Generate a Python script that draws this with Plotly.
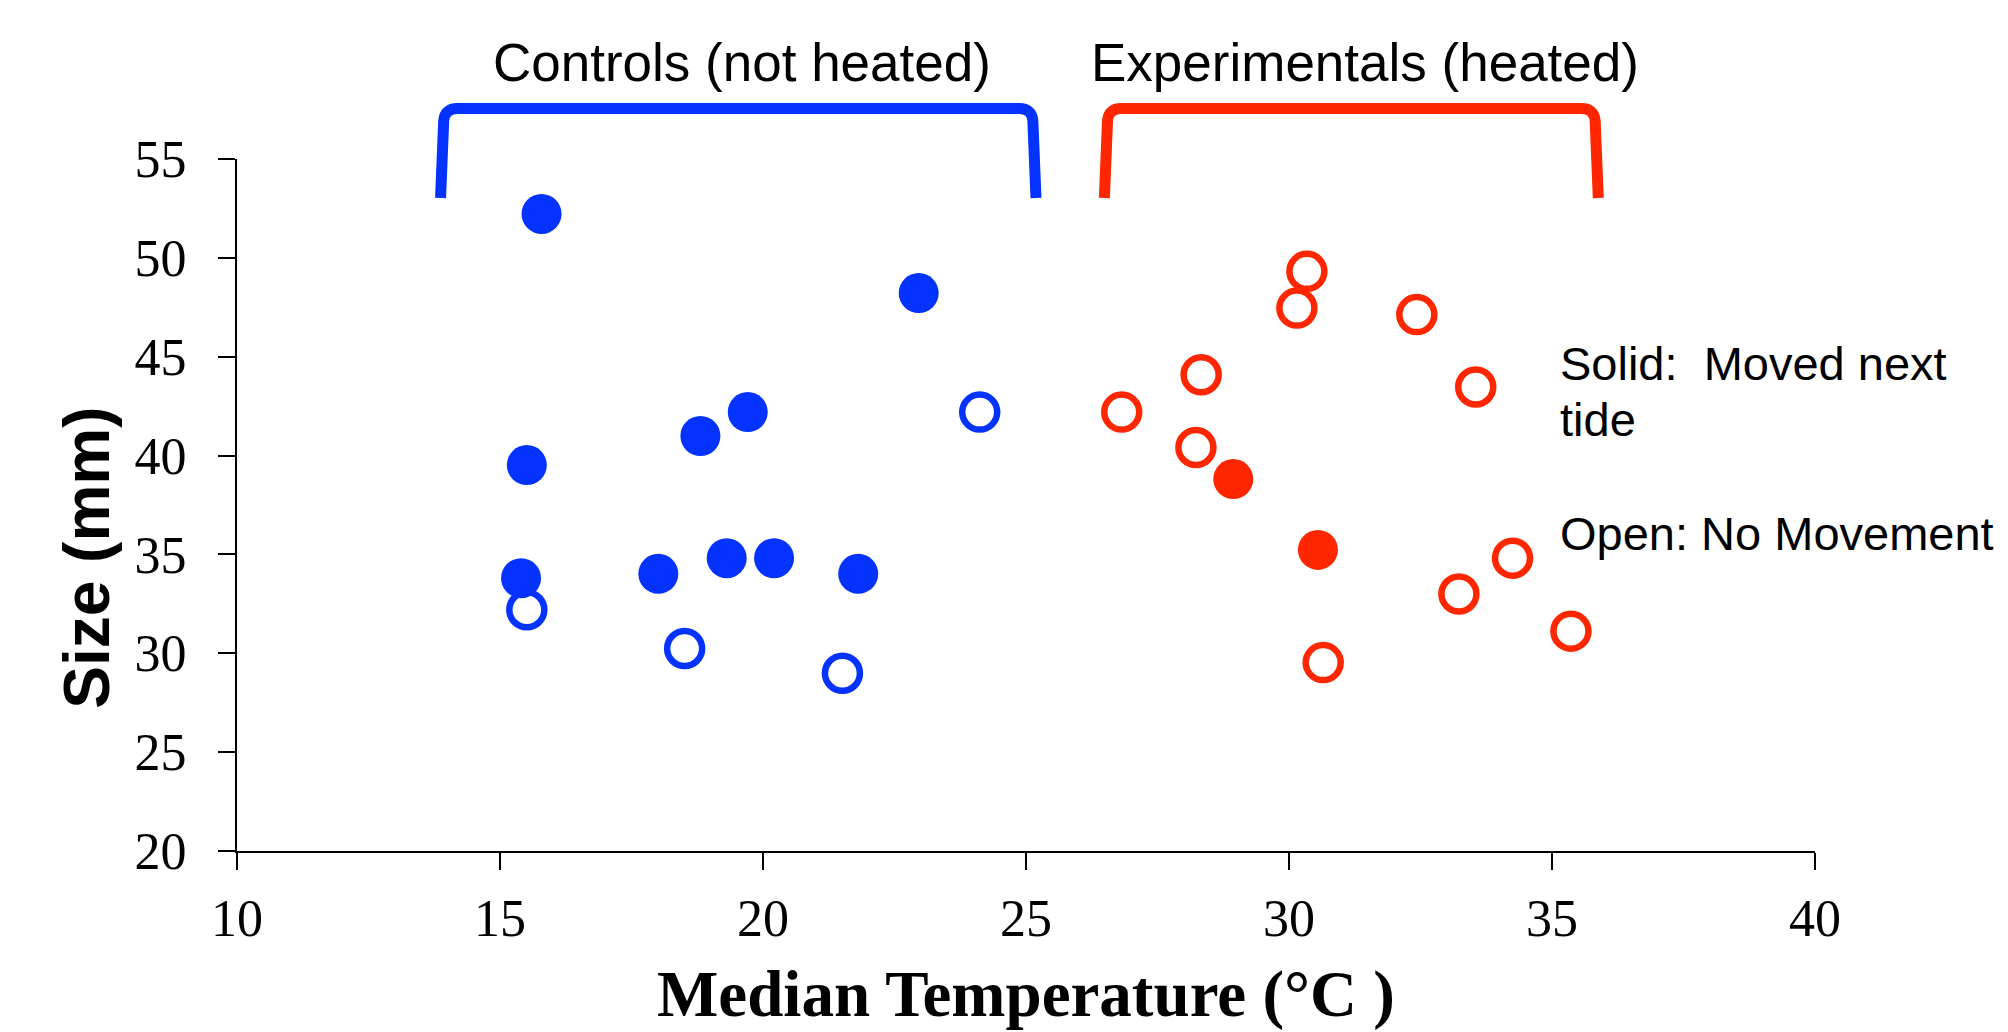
import plotly.graph_objects as go

# ---- data ----
blue_filled_x = [15.79, 22.96, 18.81, 19.71, 15.51, 15.40, 18.01, 19.31, 20.21, 21.81]
blue_filled_y = [52.22, 48.22, 40.99, 42.20, 39.52, 33.80, 34.02, 34.81, 34.81, 34.02]
blue_open_x = [24.12, 15.51, 18.51, 21.51]
blue_open_y = [42.20, 32.20, 30.24, 28.99]
red_open_x = [30.34, 30.15, 32.43, 28.33, 33.55, 26.82, 28.23, 34.25, 33.23, 35.36, 30.65]
red_open_y = [49.32, 47.46, 47.13, 44.09, 43.47, 42.20, 40.41, 34.81, 33.00, 31.12, 29.53]
red_filled_x = [28.94, 30.55]
red_filled_y = [38.81, 35.23]

x_ticks = [10, 15, 20, 25, 30, 35, 40]
y_ticks = [20, 25, 30, 35, 40, 45, 50, 55]
X_RANGE = [10, 40]
Y_RANGE = [20, 55]

group_labels = ["Controls (not heated)", "Experimentals (heated)"]
group_label_x = [19.60, 31.45]
group_ranges = [(13.87, 25.19), (26.49, 35.88)]

BLUE = "#0433FF"
RED = "#FF2600"
group_colors = [BLUE, RED]


def px(x):
    return (x - X_RANGE[0]) / (X_RANGE[1] - X_RANGE[0])


def py(y):
    return (y - Y_RANGE[0]) / (Y_RANGE[1] - Y_RANGE[0])


fig = go.Figure()


def add(xs, ys, color, filled):
    if filled:
        marker = dict(symbol="circle", size=40, color=color, line=dict(width=0))
    else:
        marker = dict(symbol="circle-open", size=35, color=color, line=dict(width=6.5, color=color))
    fig.add_trace(go.Scatter(x=xs, y=ys, mode="markers", marker=marker,
                             showlegend=False, cliponaxis=False, hoverinfo="x+y"))


add(blue_filled_x, blue_filled_y, BLUE, True)
add(blue_open_x, blue_open_y, BLUE, False)
add(red_open_x, red_open_y, RED, False)
add(red_filled_x, red_filled_y, RED, True)

# brackets above the groups (paper coordinates so they are not clipped)
y_bot, y_top = 53.03, 57.55
for (xl, xr), col, lab, lx in zip(group_ranges, group_colors, group_labels, group_label_x):
    pts = [
        ("M", [(xl, y_bot)]),
        ("L", [(xl + 0.06, y_top - 0.6)]),
        ("Q", [(xl + 0.08, y_top), (xl + 0.32, y_top)]),
        ("L", [(xr - 0.32, y_top)]),
        ("Q", [(xr - 0.08, y_top), (xr - 0.06, y_top - 0.6)]),
        ("L", [(xr, y_bot)]),
    ]
    path = " ".join(cmd + " " + " ".join(f"{px(a):.5f},{py(b):.5f}" for a, b in p) for cmd, p in pts)
    fig.add_shape(type="path", path=path, xref="paper", yref="paper",
                  line=dict(color=col, width=11), layer="above")
    fig.add_annotation(x=px(lx), y=py(59.88), xref="paper", yref="paper",
                       text=lab, showarrow=False, xanchor="center", yanchor="middle",
                       font=dict(family="Liberation Sans, Arial", size=53, color="black"))

legend_font = dict(family="Liberation Sans, Arial", size=47, color="black")
for txt, yv in [("Solid:\u00a0 Moved next", 44.67), ("tide", 41.84), ("Open: No Movement", 36.07)]:
    fig.add_annotation(x=px(35.12), y=py(yv), xref="paper", yref="paper", text=txt,
                       showarrow=False, xanchor="left", yanchor="middle", font=legend_font)

# axis titles
fig.add_annotation(x=px(7.147), y=py(34.83), xref="paper", yref="paper", text="<b>Size (mm)</b>",
                   textangle=-90, showarrow=False, xanchor="center", yanchor="middle",
                   font=dict(family="Liberation Sans, Arial", size=64, color="black"))
fig.add_annotation(x=px(25.0), y=py(12.75), xref="paper", yref="paper",
                   text="<b>Median Temperature (°C )</b>",
                   showarrow=False, xanchor="center", yanchor="middle",
                   font=dict(family="Liberation Serif, Times New Roman, serif", size=65, color="black"))

tick_font = dict(family="Liberation Serif, Times New Roman, serif", size=52, color="black")
fig.update_xaxes(range=X_RANGE, tickvals=x_ticks, ticktext=[str(v) for v in x_ticks],
                 showgrid=False, zeroline=False, showline=True, linecolor="black", linewidth=2,
                 ticks="outside", ticklen=17, tickwidth=2, tickcolor="black",
                 tickfont=tick_font, ticklabelstandoff=4)
fig.update_yaxes(range=Y_RANGE, tickvals=y_ticks, ticktext=[str(v) for v in y_ticks],
                 showgrid=False, zeroline=False, showline=True, linecolor="black", linewidth=2,
                 ticks="outside", ticklen=17, tickwidth=2, tickcolor="black",
                 tickfont=tick_font, ticklabelstandoff=21)

# page body has an 8px margin, so the figure is 8px smaller and margins compensate
fig.update_layout(width=2000, height=1024, plot_bgcolor="white", paper_bgcolor="white",
                  margin=dict(l=229, r=193, t=151, b=181), showlegend=False)

fig.write_html("out.html")
